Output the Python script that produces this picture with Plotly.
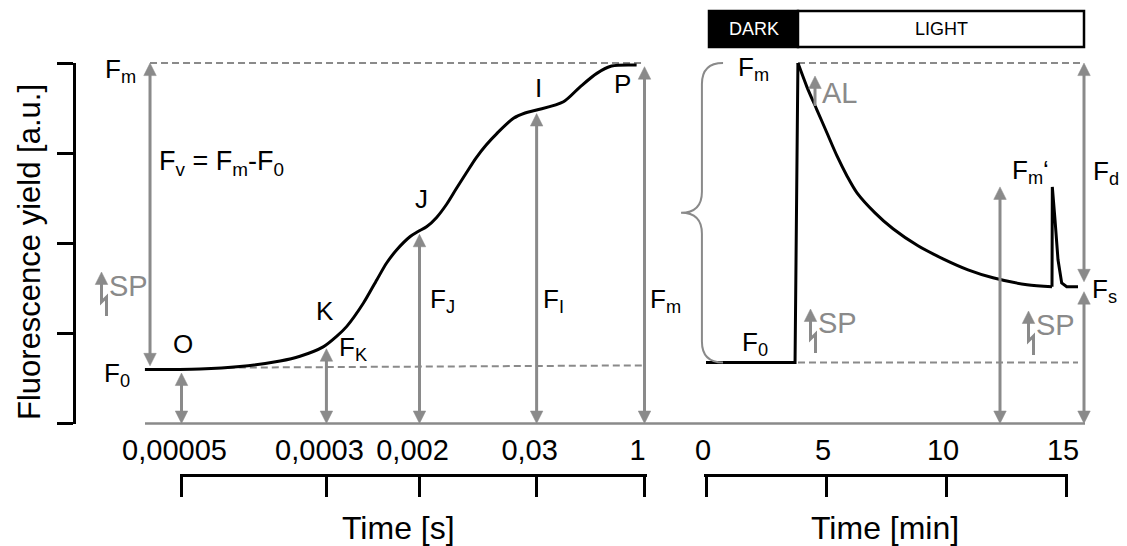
import plotly.graph_objects as go

W, H = 1127, 546
FONT = "Liberation Sans"
INK = "#000000"
GRAY = "#8a8a8a"

# ---------------- fast fluorescence rise (OJIP) ----------------
# x = position on the schematic time axis (0 = 0.00005 s tick, 1 = 1 s tick)
ojip_pos = [-0.079, 0.040, 0.126, 0.213, 0.256, 0.306, 0.335, 0.357, 0.393, 0.422,
            0.443, 0.465, 0.494, 0.511, 0.530, 0.551, 0.573, 0.593, 0.615, 0.636,
            0.658, 0.681, 0.717, 0.742, 0.767, 0.825, 0.861, 0.897, 0.929, 0.983]
ojip_yield = [0.598, 0.604, 0.632, 0.693, 0.746, 0.850, 0.967, 1.078, 1.337, 1.596,
              1.781, 1.928, 2.075, 2.131, 2.186, 2.287, 2.436, 2.602, 2.780, 2.946,
              3.091, 3.218, 3.387, 3.446, 3.479, 3.571, 3.737, 3.886, 3.967, 3.978]

time_tick_text = ["0,00005", "0,0003", "0,002", "0,03", "1"]
time_tick_pos = [0.0, 0.313, 0.514, 0.767, 1.0]

# characteristic steps of the transient, measured at the tick times
step_names = ["O", "K", "J", "I", "P"]
step_levels = [0.60, 0.87, 2.14, 3.48, 4.0]
step_labels = ["F<sub>0</sub>", "F<sub>K</sub>", "F<sub>J</sub>", "F<sub>I</sub>", "F<sub>m</sub>"]
fv_pos = -0.068
f0_ref_pos = [0.10, 1.0]
f0_ref_level = [0.62, 0.645]

# ---------------- slow induction curve (minutes) ----------------
dark_t = [0.0, 3.71, 3.83]
dark_y = [0.676, 0.676, 4.0]
decay_t = [3.833, 4.208, 4.625, 5.042, 5.458, 5.875, 6.292, 7.042, 7.792, 8.833,
           9.875, 10.917, 11.958, 13.375, 14.417]
decay_y = [4.0, 3.734, 3.479, 3.224, 2.970, 2.748, 2.560, 2.338, 2.161, 1.972,
           1.828, 1.706, 1.618, 1.540, 1.518]
pulse_t = [14.417, 14.43, 14.542, 14.667, 14.82, 15.03, 15.5]
pulse_y = [1.518, 2.626, 2.260, 1.817, 1.56, 1.518, 1.518]

min_ticks = [0, 5, 10, 15]

FM = 4.0
F0_SLOW = 0.676
FM_PRIME = 2.626
FS = 1.518
light_on = 3.833
dark_start = 0.125
protocol_end = 15.75
fm_prime_t = 12.25
ref_line_end = [15.75, 15.5]

ARROW_GAP = 0.04

# ---------------- pixel layout of the two panels ----------------
L_ORIGIN, L_SPAN = 181.5, 463.0      # px of first time tick, px to last tick
R_ORIGIN, R_PX = 706.0, 24.0         # px of 0 min, px per minute
Y_ORIGIN, Y_PX = 423.5, 90.1         # px of zero yield, px per a.u.
BRACKET_Y = 477.0
END_PAD = 2.0                        # px of axis line beyond the end ticks
HEAD_LEN, HEAD_W, SHAFT = 12.5, 12.5, 3


def paper(xp, yp):
    return xp / W, 1 - yp / H


fig = go.Figure()

# reference (dashed) levels
dash = dict(color=GRAY, width=2, dash="7px,4px")
fig.add_trace(go.Scatter(x=[fv_pos, 1.0], y=[FM, FM], mode="lines", line=dash,
                         xaxis="x", yaxis="y"))
fig.add_trace(go.Scatter(x=f0_ref_pos, y=f0_ref_level, mode="lines", line=dash,
                         xaxis="x", yaxis="y"))
fig.add_trace(go.Scatter(x=[light_on, ref_line_end[0]], y=[FM, FM], mode="lines", line=dash,
                         xaxis="x2", yaxis="y"))
fig.add_trace(go.Scatter(x=[light_on, ref_line_end[1]], y=[F0_SLOW, F0_SLOW], mode="lines",
                         line=dash, xaxis="x2", yaxis="y"))

# curves
curve = dict(color=INK, width=3)
fig.add_trace(go.Scatter(x=ojip_pos, y=ojip_yield, mode="lines",
                         line=dict(curve, shape="spline", smoothing=0.8),
                         xaxis="x", yaxis="y"))
fig.add_trace(go.Scatter(x=dark_t, y=dark_y, mode="lines", line=curve, xaxis="x2", yaxis="y"))
fig.add_trace(go.Scatter(x=decay_t, y=decay_y, mode="lines",
                         line=dict(curve, shape="spline", smoothing=0.8),
                         xaxis="x2", yaxis="y"))
fig.add_trace(go.Scatter(x=pulse_t, y=pulse_y, mode="lines", line=curve, xaxis="x2", yaxis="y"))

# invisible anchors so the bracket axes get drawn
ghost = dict(mode="markers", marker=dict(opacity=0, size=1), hoverinfo="skip")
fig.add_trace(go.Scatter(x=[0.5], y=[0.5], xaxis="x3", yaxis="y3", **ghost))
fig.add_trace(go.Scatter(x=[7.5], y=[0.5], xaxis="x4", yaxis="y3", **ghost))
fig.add_trace(go.Scatter(x=[0.5], y=[2], xaxis="x3", yaxis="y4", **ghost))

ann = []
shapes = []


def tri(xv, tip, base, hw, xref, yref):
    path = "M {a},{t} L {l},{b} L {r},{b} Z".format(a=xv, t=tip, l=xv - hw, r=xv + hw, b=base)
    shapes.append(dict(type="path", xref=xref, yref=yref, path=path, fillcolor=GRAY,
                       line=dict(color=GRAY, width=0.5)))


def varrow(xv, y0, y1, xref="x", heads=(True, True)):
    """Vertical gray arrow between two yield levels (data coordinates)."""
    hl = HEAD_LEN / Y_PX
    hw = HEAD_W / 2 / (L_SPAN if xref == "x" else R_PX)
    d = 1 if y1 > y0 else -1
    s0 = y0 + d * hl * 0.6 if heads[0] else y0
    s1 = y1 - d * hl * 0.6 if heads[1] else y1
    shapes.append(dict(type="line", xref=xref, yref="y", x0=xv, x1=xv, y0=s0, y1=s1,
                       line=dict(color=GRAY, width=SHAFT)))
    if heads[0]:
        tri(xv, y0, y0 + d * hl, hw, xref, "y")
    if heads[1]:
        tri(xv, y1, y1 - d * hl, hw, xref, "y")


def up_arrow_px(tx, ty, shaft):
    """Upward arrow drawn in pixel space; shaft = list of (dx, dy) points below the tip."""
    pts = [paper(tx + dx, ty + dy) for dx, dy in shaft]
    path = "M " + " L ".join("{},{}".format(px, py) for px, py in pts)
    shapes.append(dict(type="path", xref="paper", yref="paper", path=path,
                       line=dict(color=GRAY, width=SHAFT)))
    xt, yt = paper(tx, ty)
    _, yb = paper(tx, ty + HEAD_LEN)
    tri(xt, yt, yb, HEAD_W / 2 / W, "paper", "paper")


def label(text, xp, yp, size=26, color=INK, anchor="center"):
    x, y = paper(xp, yp)
    ann.append(dict(x=x, y=y, xref="paper", yref="paper", text=text, showarrow=False,
                    xanchor=anchor, yanchor="middle",
                    font=dict(family=FONT, size=size, color=color)))


def sp_symbol(tx, ty):
    # flash symbol: arrow with a lightning kink, then the label
    up_arrow_px(tx, ty, [(0, 8), (0, 30), (5, 25), (5, 44)])
    label("SP", tx + 5, ty + 14, size=29, color=GRAY, anchor="left")


# arrows of the fast transient
varrow(fv_pos, FM, step_levels[0] + ARROW_GAP)
for pos, lev in zip(time_tick_pos, step_levels):
    varrow(pos, 0, lev - ARROW_GAP)

# arrows of the slow curve
varrow(fm_prime_t, 0, FM_PRIME, "x2")
varrow(protocol_end, FM, FS + 0.055, "x2")
varrow(protocol_end, 0, FS - 0.055, "x2")

# actinic light switched on
up_arrow_px(815, 76, [(0, 8), (0, 30)])
label("AL", 820, 93, size=29, color=GRAY, anchor="left")

sp_symbol(101.5, 272)
sp_symbol(810.5, 309)
sp_symbol(1028.5, 311)

# text labels, fast panel
label("F<sub>m</sub>", 120, 70)
label("F<sub>0</sub>", 117, 374)
label("F<sub>v</sub> = F<sub>m</sub>-F<sub>0</sub>", 157, 163, size=27, anchor="left")
for name, (xp, yp) in zip(step_names, [(182.5, 344), (324.5, 311), (421, 199), (538, 88), (622, 84)]):
    label(name, xp, yp)
for text, (xp, yp) in zip(step_labels[1:], [(353, 348), (442, 300), (553, 300), (665, 300)]):
    label(text, xp, yp)

# text labels, slow panel
label("F<sub>m</sub>", 754, 68)
label("F<sub>0</sub>", 755, 343)
label("F<sub>m</sub>\u2018", 1030, 171)
label("F<sub>d</sub>", 1106, 172)
label("F<sub>s</sub>", 1104, 290)

# axis titles
x, y = paper(29, 252)
ann.append(dict(x=x, y=y, xref="paper", yref="paper", text="Fluorescence yield [a.u.]",
                textangle=-90, showarrow=False, xanchor="center", yanchor="middle",
                font=dict(family=FONT, size=31, color=INK)))
label("Time [s]", 398, 528, size=32)
label("Time [min]", 885, 528, size=32)

# dark / light protocol bar
bar_top, bar_bot = 1 - 11 / H, 1 - 47 / H
shapes.append(dict(type="rect", xref="x2", yref="paper", x0=dark_start, x1=light_on,
                   y0=bar_bot, y1=bar_top, fillcolor=INK, line=dict(color=INK, width=2.5)))
shapes.append(dict(type="rect", xref="x2", yref="paper", x0=light_on, x1=protocol_end,
                   y0=bar_bot, y1=bar_top, fillcolor="white", line=dict(color=INK, width=2.5)))
ann.append(dict(x=(dark_start + light_on) / 2, y=(bar_top + bar_bot) / 2, xref="x2", yref="paper",
                text="DARK", showarrow=False, xanchor="center", yanchor="middle",
                font=dict(family=FONT, size=18, color="white")))
ann.append(dict(x=(light_on + protocol_end) / 2, y=(bar_top + bar_bot) / 2, xref="x2", yref="paper",
                text="LIGHT", showarrow=False, xanchor="center", yanchor="middle",
                font=dict(family=FONT, size=18, color=INK)))

# curly brace spanning the variable fluorescence of the slow curve
bx, btip, bend, ry = -0.17, -1.04, 0.71, 0.233
ym = (FM + F0_SLOW) / 2
brace = ("M {e},{t} Q {x},{t} {x},{t1} L {x},{m1} Q {x},{m} {tip},{m} "
         "Q {x},{m} {x},{m2} L {x},{b1} Q {x},{b} {e},{b}").format(
    e=bend, t=FM, x=bx, t1=FM - ry, m1=ym + ry, m=ym, tip=btip, m2=ym - ry,
    b1=F0_SLOW + ry, b=F0_SLOW)
shapes.append(dict(type="path", xref="x2", yref="y", path=brace,
                   line=dict(color=GRAY, width=2)))

# zero line under both panels
shapes.append(dict(type="line", xref="paper", yref="y", x0=145 / W, x1=1085 / W, y0=0, y1=0,
                   line=dict(color=GRAY, width=2.5)))

bracket = dict(showline=True, linecolor=INK, linewidth=3, ticks="inside", ticklen=20,
               tickwidth=3, tickcolor=INK, showgrid=False, zeroline=False, side="top",
               tickfont=dict(family=FONT, size=29, color=INK), fixedrange=True,
               automargin=False, ticklabelstandoff=2)

hidden = dict(visible=False, fixedrange=True, automargin=False, showgrid=False, zeroline=False)

lpad = END_PAD / L_SPAN
rpad = END_PAD / R_PX

fig.update_layout(
    template="none",
    width=W, height=H, margin=dict(l=0, r=0, t=0, b=0, pad=0, autoexpand=False),
    paper_bgcolor="white", plot_bgcolor="rgba(0,0,0,0)", showlegend=False,
    font=dict(family=FONT, color=INK),
    xaxis=dict(hidden, range=[-L_ORIGIN / L_SPAN, (W - L_ORIGIN) / L_SPAN], domain=[0, 1]),
    xaxis2=dict(hidden, range=[-R_ORIGIN / R_PX, (W - R_ORIGIN) / R_PX], domain=[0, 1],
                overlaying="x", anchor="y"),
    yaxis=dict(hidden, range=[(Y_ORIGIN - H) / Y_PX, Y_ORIGIN / Y_PX], domain=[0, 1]),
    xaxis3=dict(bracket, domain=[(L_ORIGIN - END_PAD) / W, (L_ORIGIN + L_SPAN + END_PAD) / W],
                range=[-lpad, 1 + lpad], anchor="y3", tickvals=time_tick_pos,
                ticktext=time_tick_text, ticklabelshift=-7),
    xaxis4=dict(bracket, domain=[(R_ORIGIN - END_PAD) / W, (R_ORIGIN + 15 * R_PX + END_PAD) / W],
                range=[-rpad, 15 + rpad], anchor="y3", tickvals=min_ticks,
                ticktext=[str(t) for t in min_ticks], ticklabelshift=-3),
    yaxis3=dict(hidden, domain=[0, 1 - BRACKET_Y / H], range=[0, 1], anchor="x3"),
    yaxis4=dict(domain=[1 - Y_ORIGIN / H, 1 - (Y_ORIGIN - 4 * Y_PX) / H], range=[0, 4],
                anchor="free", position=73.5 / W, side="left", showline=True, linecolor=INK,
                linewidth=3, ticks="outside", ticklen=16, tickwidth=3, tickcolor=INK,
                tickvals=[0, 1, 2, 3, 4], showticklabels=False, showgrid=False,
                zeroline=False, fixedrange=True, automargin=False),
    annotations=ann,
    shapes=shapes,
)

fig.write_html("out.html")
